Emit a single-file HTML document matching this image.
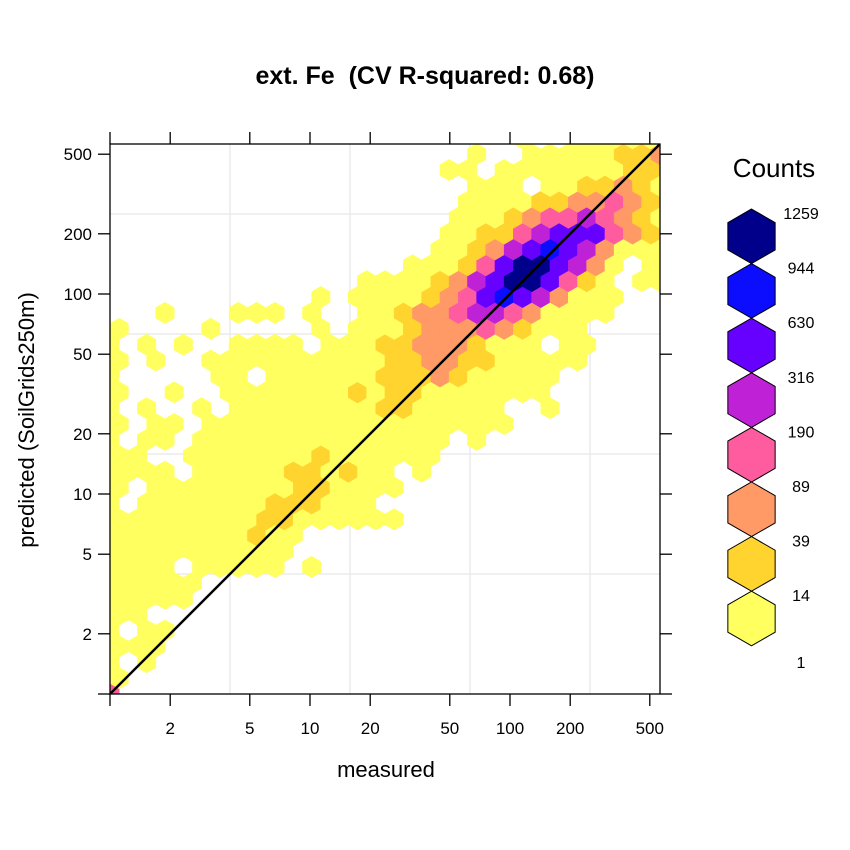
<!DOCTYPE html>
<html><head><meta charset="utf-8"><style>
body{margin:0;background:#fff;}
svg{display:block;font-family:"Liberation Sans",Arial,sans-serif;}
</style></head><body>
<svg id="chart" width="850" height="850" viewBox="0 0 850 850" xmlns="http://www.w3.org/2000/svg">
<defs><clipPath id="pc"><rect x="110" y="144" width="550" height="550"/></clipPath></defs>
<text x="425" y="84" text-anchor="middle" font-size="25" font-weight="bold">ext. Fe&#160; (CV R-squared: 0.68)</text>
<g id="grid"></g>
<g id="hexes" clip-path="url(#pc)"></g>
<line id="diag" stroke="#000" stroke-width="2.5" clip-path="url(#pc)"/>
<rect x="110" y="144" width="550" height="550" fill="none" stroke="#000" stroke-width="1.3"/>
<g id="axes"></g>
<text x="386" y="777" text-anchor="middle" font-size="22">measured</text>
<text transform="translate(34,420) rotate(-90)" text-anchor="middle" font-size="22">predicted (SoilGrids250m)</text>
<text x="774" y="177" text-anchor="middle" font-size="26">Counts</text>
<g id="legend"></g>
</svg>
<script>
const tickValues = [2, 5, 10, 20, 50, 100, 200, 500];
const tickLabels = ["2", "5", "10", "20", "50", "100", "200", "500"];
const legendBreaks = ["1259", "944", "630", "316", "190", "89", "39", "14", "1"];
const levelColors = ["#ffff60", "#ffd42e", "#ff9966", "#ff5ca0", "#bf22d6", "#6600ff", "#0c0cff", "#00008b"];
const xbins = 30;
// hex cell count levels, row 0 = bottom; '.' = empty, 1..8 = count class
const hexRows = [
"4" + ".".repeat(30),
"1" + ".".repeat(30),
"1.1" + ".".repeat(28),
"111" + ".".repeat(28),
"1.11" + ".".repeat(27),
"11" + ".".repeat(29),
"11111" + ".".repeat(26),
"11111" + ".".repeat(26),
"1111." + "11111" + "." + "1" + ".".repeat(19),
"1".repeat(10) + ".".repeat(21),
"11111111" + "2" + "11" + ".".repeat(20),
"11111111" + "22" + "111111" + ".".repeat(15),
"1." + "1111111" + "222" + "111" + ".".repeat(16),
"1." + "11111111" + "22" + "1111" + ".".repeat(15),
"1111." + "11111" + "22" + "1" + "2" + "11" + "." + "1" + ".".repeat(13),
"11.." + "1111111" + "2" + "111111" + ".".repeat(13),
"1.11." + "1".repeat(14) + "." + "1" + ".".repeat(10),
"1.11." + "1".repeat(17) + ".".repeat(9),
"1.1..1" + "." + "11111111" + "22" + "11111" + ".." + "1" + ".".repeat(6),
"1..1..1111111" + "21221111111" + ".".repeat(7),
"1.....11.11111" + "12223211111" + ".".repeat(6),
"1.1..1111111" + "11122332211111" + ".".repeat(5),
"1.1.1..1111." + "111223332111.11" + ".".repeat(4),
"1....1.....1." + "1112333432111" + ".".repeat(5),
"...1...111.1.." + "11233455431111" + "...",
"..........." + "1" + "." + "111123467653111" + "...",
".............." + "11112356886421.11",
"................" + "111246886531.1.",
".................." + "1123567653111",
".................." + "1122456664321",
"..................." + "111234454321",
"..................." + "11112233432.",
"...................." + "111.1122321",
".................." + "11.111111122.",
"...................." + "1..11111223",
"......................" + "1..11111."
];
const NS = "http://www.w3.org/2000/svg";
const x0 = 110, x1 = 660, y0 = 694, y1 = 144, pxPerDecade = 200;
function xScale(v){ return x0 + pxPerDecade * Math.log10(v); }
function yScale(v){ return y0 - pxPerDecade * Math.log10(v); }
const logMax = (x1 - x0) / pxPerDecade;
const dlx = logMax / xbins;
const dly = dlx * 1.5 / Math.sqrt(3);
function mk(tag, attrs, parent){ const e = document.createElementNS(NS, tag); for (const k in attrs) e.setAttribute(k, attrs[k]); parent.appendChild(e); return e; }

const gridG = document.getElementById('grid');
const gridLogs = [0.6, 1.2, 1.8, 2.4];
gridLogs.forEach(function(g){
  const gx = mk('line', {x1: xScale(Math.pow(10,g)), x2: xScale(Math.pow(10,g)), y1: y1, y2: y0, stroke: '#e6e6e6', 'stroke-width': 1.2}, gridG);
  
  
  const gy = mk('line', {x1: x0, x2: x1, y1: yScale(Math.pow(10,g)), y2: yScale(Math.pow(10,g)), stroke: '#e6e6e6', 'stroke-width': 1.2}, gridG);
  
  
});

const hexG = document.getElementById('hexes');
hexRows.forEach(function(row, j){
  for (let i = 0; i < row.length; i++) {
    const c = row[i];
    if (c === '.') continue;
    const lv = parseInt(c, 10);
    const mx = Math.pow(10, i * dlx + (j % 2) * dlx / 2);
    const py = Math.pow(10, j * dly);
    const cx = xScale(mx), cy = yScale(py);
    const w = xScale(Math.pow(10, dlx)) - xScale(1);
    const r = w / Math.sqrt(3);
    const pts = [[cx, cy - r], [cx + w/2, cy - r/2], [cx + w/2, cy + r/2], [cx, cy + r], [cx - w/2, cy + r/2], [cx - w/2, cy - r/2]]
      .map(p => p[0].toFixed(2) + ',' + p[1].toFixed(2)).join(' ');
    const h = mk('polygon', {points: pts, fill: levelColors[lv - 1], stroke: levelColors[lv - 1], 'stroke-width': 0.6}, hexG);
    
    
  }
});

const d = document.getElementById('diag');
d.setAttribute('x1', xScale(1)); d.setAttribute('y1', yScale(1));
d.setAttribute('x2', xScale(Math.pow(10, logMax))); d.setAttribute('y2', yScale(Math.pow(10, logMax)));

const axG = document.getElementById('axes');
const allTicks = [1].concat(tickValues);
allTicks.forEach(function(v){
  const tx = xScale(v), ty = yScale(v);
  const a = mk('line', {x1: tx, x2: tx, y1: y0, y2: y0 + 12, stroke: '#000', 'stroke-width': 1.3}, axG);
  
  
  const b = mk('line', {x1: tx, x2: tx, y1: y1, y2: y1 - 12, stroke: '#000', 'stroke-width': 1.3}, axG);
  
  
  const c = mk('line', {x1: x0 - 12, x2: x0, y1: ty, y2: ty, stroke: '#000', 'stroke-width': 1.3}, axG);
  
  
  const e = mk('line', {x1: x1, x2: x1 + 12, y1: ty, y2: ty, stroke: '#000', 'stroke-width': 1.3}, axG);
  
  
});
tickValues.forEach(function(v, k){
  const xl = mk('text', {x: xScale(v), y: y0 + 40, 'text-anchor': 'middle', 'font-size': 17}, axG);
  xl.textContent = tickLabels[k];
  
  
  const yl = mk('text', {x: 92, y: yScale(v) + 6, 'text-anchor': 'end', 'font-size': 17}, axG);
  yl.textContent = tickLabels[k];
  
  
});

const lg = document.getElementById('legend');
const lcx = 751.5, ltop = 209, lr = 27.3, lw = 47.3;
for (let k = 0; k < 8; k++) {
  const cy = ltop + lr + k * 2 * lr;
  const lv = 8 - k;
  const pts = [[lcx, cy - lr], [lcx + lw/2, cy - lr/2], [lcx + lw/2, cy + lr/2], [lcx, cy + lr], [lcx - lw/2, cy + lr/2], [lcx - lw/2, cy - lr/2]]
    .map(p => p[0].toFixed(2) + ',' + p[1].toFixed(2)).join(' ');
  const h = mk('polygon', {points: pts, fill: levelColors[lv - 1], stroke: '#000', 'stroke-width': 1}, lg);
  
  
}
legendBreaks.forEach(function(lab, k){
  const yy = (k === legendBreaks.length - 1) ? 668 : ltop + 10 + k * 2 * lr;
  const t = mk('text', {x: 801, y: yy, 'text-anchor': 'middle', 'font-size': 16}, lg);
  t.textContent = lab;
  
  
});
</script>
</body></html>
